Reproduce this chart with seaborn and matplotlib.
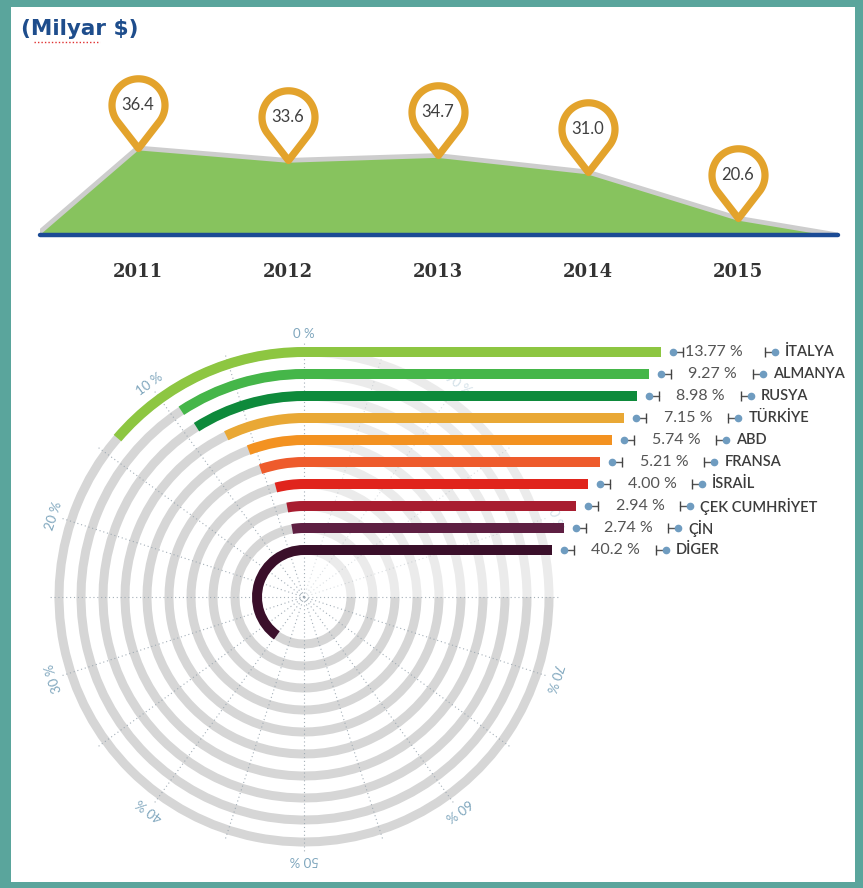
import numpy as np
import matplotlib
matplotlib.use("Agg")
import matplotlib.pyplot as plt
from matplotlib.patches import Wedge, Rectangle
from matplotlib.path import Path
from matplotlib.markers import MarkerStyle
import seaborn as sns

# --- veriler ---
years = [2011, 2012, 2013, 2014, 2015]
export_values = [36.4, 33.6, 34.7, 31.0, 20.6]

countries = ["İTALYA", "ALMANYA", "RUSYA", "TÜRKİYE", "ABD", "FRANSA",
             "İSRAİL", "ÇEK CUMHRİYET", "ÇİN", "DİGER"]
shares = [13.77, 9.27, 8.98, 7.15, 5.74, 5.21, 4.00, 2.94, 2.74, 40.2]
share_labels = ["13.77 %", "9.27 %", "8.98 %", "7.15 %", "5.74 %", "5.21 %",
                "4.00 %", "2.94 %", "2.74 %", "40.2 %"]
bar_colors = ["#8dc641", "#45b649", "#0e8a3b", "#e9a835", "#f39221", "#ee5b2c",
              "#e0241c", "#a81d30", "#5e1f42", "#3a0f2a"]
tick_pcts = [0, 10, 20, 30, 40, 50, 60, 70, 80, 90]

sns.set_theme(style="white")
plt.rcParams["font.family"] = ["Lato", "DejaVu Sans"]

W, H = 863, 888
fig = plt.figure(figsize=(W / 100, H / 100), dpi=100)
fig.patch.set_facecolor("white")

# ---------------- ust grafik: alan ----------------
ymin, ymax = 16.8, 56.2
x_lo, x_hi = 2010.35, 2015.67
ax1 = fig.add_axes([40 / W, (H - 235) / H, 798 / W, 175 / H])
ax1.set_xlim(x_lo, x_hi)
ax1.set_ylim(ymin, ymax)

x_area = [x_lo] + years + [x_hi]
y_area = [17.5] + export_values + [ymin]
ax1.fill_between(x_area, ymin, y_area, color="#87c35e", lw=0, zorder=1)
sns.lineplot(x=x_area, y=y_area, ax=ax1, color="#cdcdcd", lw=3.4,
             sort=False, zorder=2)
ax1.axhline(ymin, color="#1b4b95", lw=3.2, zorder=3, clip_on=False)

# pin isareti (damla)
d = 1.63
a = np.degrees(np.arccos(1 / d))
t = np.radians(np.linspace(-90 + a, 270 - a, 90))
verts = [(0, 0)] + [(np.cos(v), d + np.sin(v)) for v in t] + [(0, 0)]
pin = MarkerStyle(Path(verts, closed=True), joinstyle="round")
r_pt = 26.5 * 0.72
ax1.plot(years, export_values, ls="none", marker=pin, ms=2 * (d + 1) * r_pt,
         mfc="white", mec="#e3a32c", mew=5.2, zorder=5, clip_on=False)
for x, v in zip(years, export_values):
    ax1.annotate(f"{v:.1f}", (x, v), xytext=(0, d * r_pt), textcoords="offset points",
                 ha="center", va="center", fontsize=12, color="#404040", zorder=6,
                 annotation_clip=False)

ax1.set_xticks(years)
ax1.set_xticklabels([str(y) for y in years], family="DejaVu Serif",
                    fontweight="bold", fontsize=13, color="#333333")
ax1.tick_params(axis="x", length=0, pad=20)
ax1.set_yticks([])
ax1.set_ylabel("")
for s in ax1.spines.values():
    s.set_visible(False)

fig.text(21 / W, 1 - 29 / H, "(Milyar $)", family="DejaVu Sans", fontweight="bold",
         fontsize=15.5, color="#1e4d8c", va="center", ha="left")
fig.add_artist(plt.Line2D([34 / W, 100 / W], [1 - 42 / H, 1 - 42 / H],
                          color="#e03030", lw=1, ls=(0, (1, 1.5))))

# ---------------- alt grafik: radyal cubuklar ----------------
cx, cy = 304, 597
ax2 = fig.add_axes([0, 0, 1, 588 / H])
ax2.set_xlim(-cx, W - cx)
ax2.set_ylim(cy - H, cy - 300)
ax2.axis("off")

n = len(countries)
radii = [245 - 22 * i for i in range(n)]

# gri halkalar
for r in radii:
    ax2.add_patch(Wedge((0, 0), r + 4.5, 90, 360, width=9, color="#d6d6d6", lw=0, zorder=1))
    ax2.add_patch(Wedge((0, 0), r + 4.5, 0, 90, width=9, color="#ebebeb", lw=0, zorder=1))

# kesikli izgara
for p in np.arange(0, 100, 5):
    ang = np.radians(90 + 3.6 * p)
    faded = 75 < p < 100
    ax2.plot([0, 255 * np.cos(ang)], [0, 255 * np.sin(ang)], color="#9aa6b0",
             lw=0.8, ls=(0, (1, 2.5)), alpha=0.35 if faded else 0.9, zorder=2)

for p in tick_pcts:
    ang = 90 + 3.6 * p
    rr = 263
    ax2.text(rr * np.cos(np.radians(ang)), rr * np.sin(np.radians(ang)), f"{p} %",
             rotation=3.6 * p, rotation_mode="anchor", ha="center", va="center",
             fontsize=9.5, color="#7fa6bd", alpha=0.35 if p >= 80 else 1, zorder=2)

# renkli yaylar ve duz cubuklar
for i, (r, v, c) in enumerate(zip(radii, shares, bar_colors)):
    ax2.add_patch(Wedge((0, 0), r + 5, 90, 90 + 3.6 * v, width=10, color=c, lw=0, zorder=3))
    end = 222 + 0.55 * r
    ax2.barh(r, end, left=0, height=10, color=c, lw=0, zorder=3)

    ax2.plot([end + 12, end + 22], [r, r], color="#555555", lw=1, zorder=4)
    ax2.plot(end + 12, r, "o", ms=4.5, color="#6f9cc0", zorder=5)
    ax2.plot(end + 22, r, "|", ms=7, mew=1, color="#444444", zorder=5)
    vx = end + 53 if i == 0 else end + 64
    ax2.text(vx, r, share_labels[i], ha="center", va="center",
             fontsize=11.5, color="#555555", zorder=5)
    ax2.plot([end + 104, end + 114], [r, r], color="#555555", lw=1, zorder=4)
    ax2.plot(end + 104, r, "|", ms=7, mew=1, color="#444444", zorder=5)
    ax2.plot(end + 114, r, "o", ms=4.5, color="#6f9cc0", zorder=5)
    ax2.text(end + 124, r, countries[i], ha="left", va="center", fontsize=10.5,
             fontweight="semibold", color="#3c3c3c", zorder=5)

# cerceve
teal = "#5aa59c"
for (x0, y0, w, h) in [(0, 0, 11, H), (0, H - 7, W, 7), (W - 8, 0, 8, H), (0, 0, W, 6)]:
    fig.add_artist(Rectangle((x0 / W, y0 / H), w / W, h / H, transform=fig.transFigure,
                             color=teal, lw=0, zorder=10))

fig.savefig("out.png", dpi=100, facecolor="white")
